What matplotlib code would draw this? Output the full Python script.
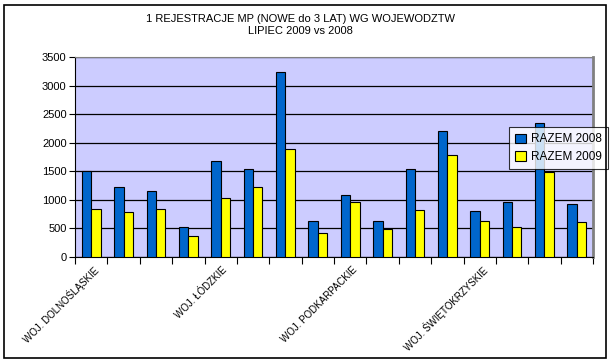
import matplotlib
matplotlib.use("Agg")
import matplotlib.pyplot as plt
import numpy as np
from matplotlib.patches import Rectangle

plt.rcParams['font.family'] = ['Liberation Sans', 'DejaVu Sans']

categories = ["WOJ. DOLNOŚLĄSKIE", "WOJ. KUJAWSKO-POMORSKIE", "WOJ. LUBELSKIE", "WOJ. LUBUSKIE",
              "WOJ. ŁÓDZKIE", "WOJ. MAŁOPOLSKIE", "WOJ. MAZOWIECKIE", "WOJ. OPOLSKIE",
              "WOJ. PODKARPACKIE", "WOJ. PODLASKIE", "WOJ. POMORSKIE", "WOJ. ŚLĄSKIE",
              "WOJ. ŚWIĘTOKRZYSKIE", "WOJ. WARMIŃSKO-MAZURSKIE", "WOJ. WIELKOPOLSKIE",
              "WOJ. ZACHODNIOPOMORSKIE"]
razem_2008 = [1500, 1232, 1162, 531, 1687, 1547, 3245, 636, 1091, 636, 1547, 2212, 811, 969, 2352, 934]
razem_2009 = [846, 794, 846, 374, 1039, 1232, 1897, 426, 969, 496, 829, 1792, 636, 531, 1488, 619]
yticks = [0, 500, 1000, 1500, 2000, 2500, 3000, 3500]
title = "1 REJESTRACJE MP (NOWE do 3 LAT) WG WOJEWODZTW\nLIPIEC 2009 vs 2008"

W, H = 613, 363
fig = plt.figure(figsize=(W/100, H/100), dpi=100)
fig.patches.append(Rectangle((4/W, 1 - 358/H), 602/W, 353/H, transform=fig.transFigure,
                             fill=False, edgecolor='black', linewidth=1.2))

ax = fig.add_axes([75/W, 1 - 257/H, (593-75)/W, (257-57)/H])
ax.set_facecolor('#CCCCFF')
n = len(categories)
x = np.arange(n)
bw = 0.29
ax.bar(x - bw/2, razem_2008, width=bw, color='#0066CC', edgecolor='black', linewidth=0.8,
       label='RAZEM 2008', zorder=3)
ax.bar(x + bw/2, razem_2009, width=bw, color='#FFFF00', edgecolor='black', linewidth=0.8,
       label='RAZEM 2009', zorder=3)
ax.set_xlim(-0.5, n - 0.5)
ax.set_ylim(0, 3500)
ax.set_yticks(yticks)
ax.set_yticklabels([str(v) for v in yticks], fontsize=8)
ax.yaxis.grid(True, color='black', linewidth=0.9, zorder=1)
ax.set_axisbelow(True)

# category boundary ticks
ax.set_xticks(np.arange(n + 1) - 0.5)
ax.set_xticklabels([])
ax.tick_params(axis='x', direction='out', length=5, width=0.8)
ax.tick_params(axis='y', direction='out', length=4, width=0.8, pad=2)
for i in range(0, n, 4):
    ax.text(i + 0.05, -130, categories[i], rotation=45, ha='right', va='top',
            rotation_mode='anchor', fontsize=7, transform=ax.transData, clip_on=False)

ax.spines['top'].set_color('#808080')
ax.spines['right'].set_color('#808080')
ax.spines['right'].set_linewidth(2)
ax.spines['left'].set_linewidth(0.8)
ax.spines['bottom'].set_linewidth(0.8)

fig.text(0.49, 1 - 25/H, title, ha='center', va='center', fontsize=8, linespacing=1.3)

leg = ax.legend(loc='upper left', bbox_to_anchor=((509-75)/(593-75), (257-127)/200),
                frameon=True, fancybox=False, edgecolor='black', fontsize=8.5,
                handlelength=0.9, handleheight=0.9, borderpad=0.55, labelspacing=0.45,
                handletextpad=0.4, borderaxespad=0)
leg.get_frame().set_linewidth(0.8)
leg.get_frame().set_facecolor('white')
leg.set_zorder(10)
for h in leg.legend_handles:
    h.set_edgecolor('black')

fig.savefig('out.png', dpi=100)
